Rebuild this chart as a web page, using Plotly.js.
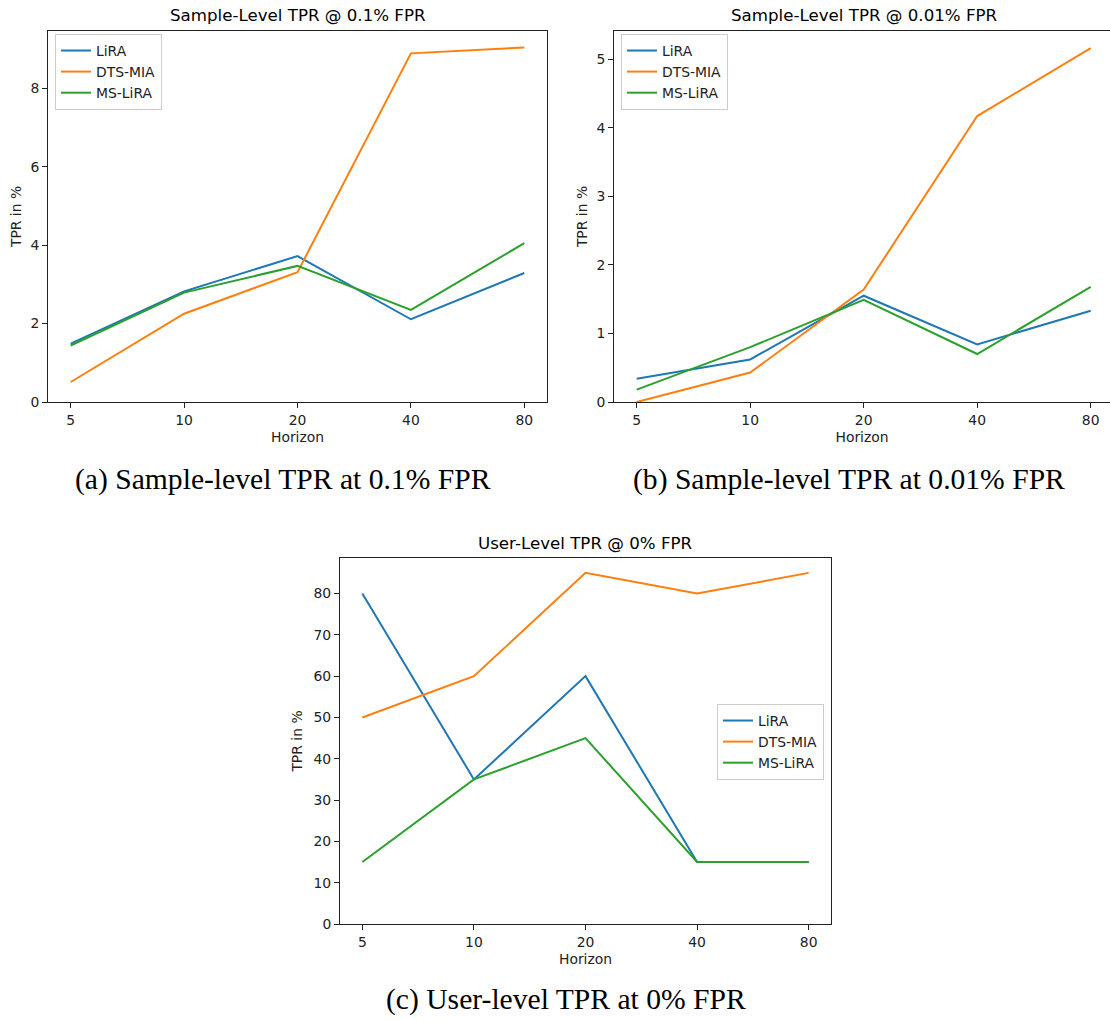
<!DOCTYPE html>
<html>
<head>
<meta charset="utf-8">
<script src="https://cdn.plot.ly/plotly-3.0.1.min.js"></script>
<style>html,body{margin:0;padding:0;background:#fff;}</style>
</head>
<body>
<div id="chart" style="width:1110px;height:1021px;"></div>
<script>
// ---- data ----
const horizons = ['5', '10', '20', '40', '80'];
const seriesNames = ['LiRA', 'DTS-MIA', 'MS-LiRA'];
const seriesColors = ['#1f77b4', '#ff7f0e', '#2ca02c'];

// (a) Sample-level TPR @ 0.1% FPR
const a_lira  = [1.49, 2.82, 3.72, 2.11, 3.29];
const a_dts   = [0.51, 2.25, 3.31, 8.89, 9.04];
const a_ms    = [1.44, 2.79, 3.47, 2.35, 4.05];
// (b) Sample-level TPR @ 0.01% FPR
const b_lira  = [0.34, 0.62, 1.55, 0.84, 1.33];
const b_dts   = [0.00, 0.43, 1.64, 4.17, 5.16];
const b_ms    = [0.18, 0.80, 1.49, 0.70, 1.68];
// (c) User-level TPR @ 0% FPR
const c_lira  = [80, 35, 60, 15, 15];
const c_dts   = [50, 60, 85, 80, 85];
const c_ms    = [15, 35, 45, 15, 15];

const panelTitles = ['Sample-Level TPR @ 0.1% FPR', 'Sample-Level TPR @ 0.01% FPR', 'User-Level TPR @ 0% FPR'];
const captions = ['(a) Sample-level TPR at 0.1% FPR', '(b) Sample-level TPR at 0.01% FPR', '(c) User-level TPR at 0% FPR'];
const xTitle = 'Horizon';
const yTitle = 'TPR in %';

// ---- layout helpers ----
const W = 1110, H = 1021;
const px = v => v / W;
const py = v => 1 - v / H;
const FONT = 'DejaVu Sans, sans-serif';
const SERIF = 'Liberation Serif, serif';
const TICK = 13.9, TITLE = 16.67, CAP = 29.6;
const AX = '#222';

const panels = [
  {data: [a_lira, a_dts, a_ms], xa: 'x',  ya: 'y',  leg: 'legend'},
  {data: [b_lira, b_dts, b_ms], xa: 'x2', ya: 'y2', leg: 'legend2'},
  {data: [c_lira, c_dts, c_ms], xa: 'x3', ya: 'y3', leg: 'legend3'}
];

const traces = [];
panels.forEach(p => {
  p.data.forEach((vals, i) => {
    traces.push({
      type: 'scatter', mode: 'lines',
      x: horizons, y: vals,
      name: seriesNames[i],
      xaxis: p.xa, yaxis: p.ya, legend: p.leg,
      line: {color: seriesColors[i], width: 2},
      hoverinfo: 'x+y+name'
    });
  });
});

function xaxis(domain, range, anchor, mirror) {
  return {
    domain: domain, anchor: anchor, type: 'category',
    range: range, autorange: false, fixedrange: true,
    showgrid: false, zeroline: false,
    showline: true, linecolor: AX, linewidth: 1, mirror: mirror,
    ticks: 'outside', ticklen: 5, tickwidth: 1, tickcolor: AX,
    tickfont: {family: FONT, size: TICK, color: '#222'},
    title: {text: xTitle, font: {family: FONT, size: TICK, color: '#222'}, standoff: 5}
  };
}
function yaxis(domain, range, dtick, anchor, mirror, standoff) {
  return {
    domain: domain, anchor: anchor,
    range: range, autorange: false, fixedrange: true,
    tick0: 0, dtick: dtick,
    showgrid: false, zeroline: false,
    showline: true, linecolor: AX, linewidth: 1, mirror: mirror,
    ticks: 'outside', ticklen: 5, tickwidth: 1, tickcolor: AX,
    tickfont: {family: FONT, size: TICK, color: '#222'},
    title: {text: yTitle, font: {family: FONT, size: TICK, color: '#222'}, standoff: standoff}
  };
}
function legend(x, y) {
  return {
    x: x, y: y, xanchor: 'left', yanchor: 'top',
    bgcolor: 'rgba(255,255,255,0.8)', bordercolor: '#cccccc', borderwidth: 1,
    font: {family: FONT, size: TICK, color: '#222'},
    itemwidth: 30
  };
}
function label(text, x, y, family, size) {
  return {text: text, x: px(x), y: py(y), xref: 'paper', yref: 'paper',
          xanchor: 'center', yanchor: 'middle', showarrow: false,
          font: {family: family, size: size, color: '#000'}};
}

const layout = {
  width: W, height: H,
  margin: {l: 0, r: 0, t: 0, b: 0},
  paper_bgcolor: '#ffffff', plot_bgcolor: '#ffffff',
  showlegend: true,
  xaxis:  xaxis([px(48), px(547)], [-0.2, 4.2], 'y', true),
  yaxis:  yaxis([py(402), py(31)], [0, 9.46], 2, 'x', true, 5),
  xaxis2: xaxis([px(614), 1], [-0.2, 4.17], 'y2', true),
  yaxis2: yaxis([py(402), py(31)], [0, 5.41], 1, 'x2', false, 5),
  xaxis3: xaxis([px(340), px(831)], [-0.2, 4.2], 'y3', true),
  yaxis3: yaxis([py(924), py(558)], [0, 88.6], 10, 'x3', true, 7),
  legend:  legend(px(55), py(34)),
  legend2: legend(px(621), py(34)),
  legend3: legend(px(717), py(704)),
  annotations: [
    label(panelTitles[0], 297.5, 16, FONT, TITLE),
    label(panelTitles[1], 864, 16, FONT, TITLE),
    label(panelTitles[2], 585.5, 543, FONT, TITLE),
    label(captions[0], 282.5, 479, SERIF, CAP),
    label(captions[1], 849, 479, SERIF, CAP),
    label(captions[2], 565.5, 999, SERIF, CAP)
  ]
};

Plotly.newPlot('chart', traces, layout, {displayModeBar: false, staticPlot: true});
</script>
</body>
</html>
